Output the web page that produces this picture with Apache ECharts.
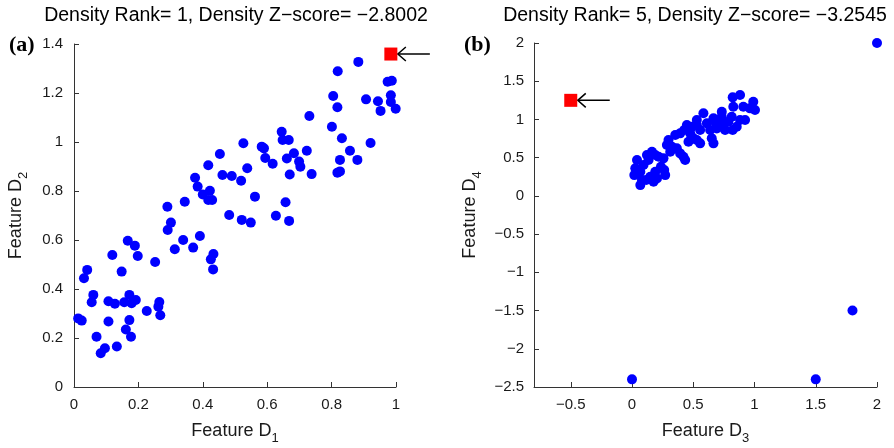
<!DOCTYPE html>
<html>
<head>
<meta charset="utf-8">
<script src="https://cdn.jsdelivr.net/npm/echarts@6/dist/echarts.min.js"></script>
<style>
  html, body { margin: 0; padding: 0; background: #fff; }
  #chart { width: 894px; height: 448px; }
</style>
</head>
<body>
<div id="chart"></div>
<script>
// panel (a): Feature D1 vs Feature D2
var pointsA = [
  [0.526,0.995],[0.583,0.981],[0.453,0.951],[0.417,0.905],[0.538,0.893],[0.376,0.854],
  [0.461,0.865],[0.490,0.861],[0.519,0.842],[0.384,0.818],[0.422,0.801],[0.400,0.786],
  [0.417,0.763],[0.429,0.763],[0.562,0.777],[0.344,0.756],[0.290,0.736],[0.883,1.327],
  [0.819,1.289],[0.974,1.246],[0.987,1.250],[0.805,1.188],[0.818,1.142],[0.907,1.174],
  [0.944,1.166],[0.984,1.191],[0.984,1.163],[0.952,1.127],[0.999,1.136],[0.731,1.106],
  [0.801,1.062],[0.645,1.042],[0.648,1.008],[0.667,1.008],[0.832,1.015],[0.590,0.974],
  [0.921,0.996],[0.723,0.964],[0.683,0.954],[0.857,0.964],[0.594,0.935],[0.661,0.933],
  [0.617,0.911],[0.699,0.920],[0.703,0.899],[0.826,0.927],[0.880,0.927],[0.670,0.867],
  [0.738,0.869],[0.818,0.875],[0.826,0.880],[0.657,0.754],[0.482,0.702],[0.521,0.682],
  [0.549,0.671],[0.301,0.671],[0.291,0.641],[0.167,0.597],[0.189,0.577],[0.198,0.535],
  [0.119,0.539],[0.339,0.600],[0.391,0.616],[0.313,0.562],[0.370,0.569],[0.433,0.543],
  [0.425,0.521],[0.432,0.480],[0.252,0.510],[0.041,0.478],[0.031,0.444],[0.148,0.471],
  [0.060,0.376],[0.055,0.346],[0.107,0.350],[0.127,0.340],[0.156,0.346],[0.172,0.376],
  [0.179,0.342],[0.192,0.355],[0.265,0.347],[0.262,0.328],[0.226,0.310],[0.268,0.293],
  [0.013,0.280],[0.024,0.271],[0.107,0.267],[0.172,0.273],[0.161,0.235],[0.177,0.205],
  [0.070,0.205],[0.133,0.165],[0.096,0.158],[0.083,0.138],[0.627,0.699],[0.668,0.678]
];
var outlierA = [[0.984, 1.359]];

// panel (b): Feature D3 vs Feature D4
var pointsB = [
  [0.041,0.469],[0.027,0.360],[0.019,0.272],[0.068,0.316],[0.081,0.207],[0.068,0.141],
  [0.116,0.207],[0.149,0.250],[0.176,0.185],[0.204,0.229],[0.190,0.316],[0.263,0.338],
  [0.271,0.272],[0.236,0.381],[0.122,0.534],[0.163,0.577],[0.190,0.534],[0.217,0.512],
  [0.257,0.491],[0.298,0.730],[0.326,0.643],[0.312,0.577],[0.366,0.622],[0.393,0.556],
  [0.420,0.512],[0.434,0.469],[0.353,0.796],[0.393,0.818],[0.426,0.861],[0.448,0.927],
  [0.489,0.904],[0.475,0.818],[0.502,0.753],[0.529,0.730],[0.556,0.687],[0.529,0.992],
  [0.583,1.080],[0.611,0.949],[0.638,0.861],[0.651,0.753],[0.665,0.687],[0.678,0.970],
  [0.692,0.883],[0.733,1.101],[0.733,0.927],[0.760,0.861],[0.787,0.970],[0.814,1.036],
  [0.827,1.166],[0.822,0.861],[0.855,0.904],[0.882,0.992],[0.882,1.319],[0.822,1.289],
  [0.909,1.166],[0.923,0.992],[0.963,1.145],[0.990,1.232],[1.004,1.123],[0.529,0.927],
  [0.556,0.861],[0.461,0.708],[0.665,1.014],[0.733,1.036],[0.285,0.665],[0.094,0.403],
  [0.135,0.469],
  [2.0,2.0],[0.0,-2.4],[1.5,-2.4],[1.8,-1.5]
];
var outlierB = [[-0.5, 1.25]];

var titleA = 'Density Rank= 1, Density Z\u2212score= \u22122.8002';
var titleB = 'Density Rank= 5, Density Z\u2212score= \u22123.2545';
var xTicksB = [-0.5, 0, 0.5, 1, 1.5, 2];

var FONT = '"Liberation Sans", Arial, Helvetica, sans-serif';
var SERIF = '"Liberation Serif", "Times New Roman", serif';
var INK = '#1a1a1a';

function fmt(v) {
  return String(+v.toFixed(2)).replace('-', '\u2212');
}

function axis(extra) {
  var base = {
    type: 'value',
    axisLine: { show: true, onZero: false, lineStyle: { color: '#333', width: 1 } },
    axisTick: { show: true, inside: true, length: 5, lineStyle: { color: '#333' } },
    splitLine: { show: false },
    axisLabel: { color: INK, fontSize: 15, fontFamily: FONT, formatter: fmt },
    nameLocation: 'middle',
    nameTextStyle: {
      color: INK, fontSize: 18, fontFamily: FONT,
      rich: { s: { fontSize: 13, fontFamily: FONT, color: INK, padding: [14, 0, 0, 0] } }
    }
  };
  return echarts.util.merge(base, extra, true);
}

var chart = echarts.init(document.getElementById('chart'));

var option = {
  animation: false,
  backgroundColor: '#fff',
  title: [
    { text: titleA, left: 231, top: 1, textAlign: 'center',
      textStyle: { fontSize: 19.5, fontWeight: 'normal', color: '#000', fontFamily: FONT } },
    { text: titleB, left: 690, top: 1, textAlign: 'center',
      textStyle: { fontSize: 19.5, fontWeight: 'normal', color: '#000', fontFamily: FONT } },
    { text: '(a)', left: 4, top: 29,
      textStyle: { fontSize: 22, fontWeight: 'bold', color: '#000', fontFamily: SERIF } },
    { text: '(b)', left: 459, top: 29,
      textStyle: { fontSize: 22, fontWeight: 'bold', color: '#000', fontFamily: SERIF } }
  ],
  grid: [
    { left: 74, top: 44, width: 322, bottom: 61, outerBoundsMode: 'none', containLabel: false },
    { left: 534, top: 43, width: 343, bottom: 61, outerBoundsMode: 'none', containLabel: false }
  ],
  xAxis: [
    axis({ gridIndex: 0, min: 0, max: 1, interval: 0.2,
      axisLabel: { margin: 10 }, name: 'Feature D{s|1}', nameGap: 31 }),
    axis({ gridIndex: 1, min: -0.8, max: 2,
      axisTick: { customValues: xTicksB }, axisLabel: { margin: 10, customValues: xTicksB },
      name: 'Feature D{s|3}', nameGap: 31 })
  ],
  yAxis: [
    axis({ gridIndex: 0, min: 0, max: 1.4, interval: 0.2,
      axisLabel: { margin: 11 }, name: 'Feature D{s|2}', nameGap: 44 }),
    axis({ gridIndex: 1, min: -2.5, max: 2, interval: 0.5,
      axisLabel: { margin: 10 }, name: 'Feature D{s|4}', nameGap: 50 })
  ],
  series: [
    { type: 'scatter', xAxisIndex: 0, yAxisIndex: 0, data: pointsA,
      symbolSize: 10, itemStyle: { color: '#0000ff', opacity: 1 }, silent: true },
    { type: 'scatter', xAxisIndex: 0, yAxisIndex: 0, data: outlierA,
      symbol: 'rect', symbolSize: 13, itemStyle: { color: '#ff0000', opacity: 1 }, silent: true, z: 3 },
    { type: 'scatter', xAxisIndex: 1, yAxisIndex: 1, data: pointsB,
      symbolSize: 10, itemStyle: { color: '#0000ff', opacity: 1 }, silent: true },
    { type: 'scatter', xAxisIndex: 1, yAxisIndex: 1, data: outlierB,
      symbol: 'rect', symbolSize: 13, itemStyle: { color: '#ff0000', opacity: 1 }, silent: true, z: 3 }
  ]
};

chart.setOption(option);

// arrows pointing at the red squares, placed from the data position
function arrowAt(p) {
  var x0 = p[0] + 7, y = p[1];
  return {
    type: 'group',
    children: [
      { type: 'line', shape: { x1: x0, y1: y, x2: x0 + 32, y2: y },
        style: { stroke: '#000', lineWidth: 1.5 } },
      { type: 'polyline', shape: { points: [[x0 + 8, y - 7], [x0, y], [x0 + 8, y + 7]] },
        style: { stroke: '#000', lineWidth: 1.5, fill: null } }
    ]
  };
}

var pa = chart.convertToPixel({ xAxisIndex: 0, yAxisIndex: 0 }, outlierA[0]);
var pb = chart.convertToPixel({ xAxisIndex: 1, yAxisIndex: 1 }, outlierB[0]);
chart.setOption({ graphic: [arrowAt(pa), arrowAt(pb)] });
</script>
</body>
</html>
